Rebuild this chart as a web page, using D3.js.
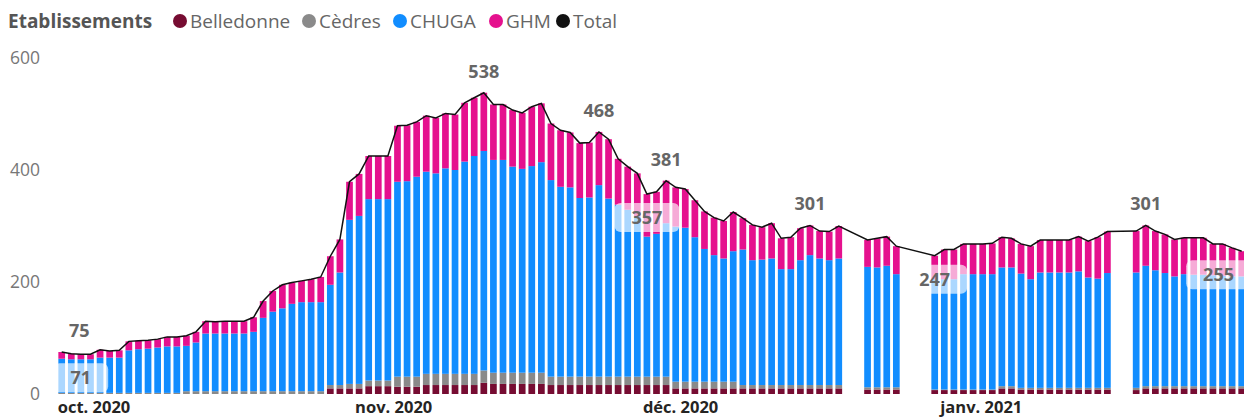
<!DOCTYPE html>
<html>
<head>
<meta charset="utf-8">
<script src="https://cdn.jsdelivr.net/npm/d3@7"></script>
<style>
  body { margin: 0; background: #fff; }
  svg { display: block; font-family: "Open Sans", "Noto Sans", sans-serif; }
</style>
</head>
<body>
<div id="chart"></div>
<script>
const W = 1244, H = 419;

// days with data (gaps are days without values)
const dates = [
  "2020-10-01","2020-10-02","2020-10-03","2020-10-04","2020-10-05","2020-10-06","2020-10-07","2020-10-08","2020-10-09","2020-10-10",
  "2020-10-11","2020-10-12","2020-10-13","2020-10-14","2020-10-15","2020-10-16","2020-10-17","2020-10-18","2020-10-19","2020-10-20",
  "2020-10-21","2020-10-22","2020-10-23","2020-10-24","2020-10-25","2020-10-26","2020-10-27","2020-10-28","2020-10-29","2020-10-30",
  "2020-10-31","2020-11-01","2020-11-02","2020-11-03","2020-11-04","2020-11-05","2020-11-06","2020-11-07","2020-11-08","2020-11-09",
  "2020-11-10","2020-11-11","2020-11-12","2020-11-13","2020-11-14","2020-11-15","2020-11-16","2020-11-17","2020-11-18","2020-11-19",
  "2020-11-20","2020-11-21","2020-11-22","2020-11-23","2020-11-24","2020-11-25","2020-11-26","2020-11-27","2020-11-28","2020-11-29",
  "2020-11-30","2020-12-01","2020-12-02","2020-12-03","2020-12-04","2020-12-05","2020-12-06","2020-12-07","2020-12-08","2020-12-09",
  "2020-12-10","2020-12-11","2020-12-12","2020-12-13","2020-12-14","2020-12-15","2020-12-16","2020-12-17","2020-12-18","2020-12-19",
  "2020-12-20","2020-12-21",
  "2020-12-24","2020-12-25","2020-12-26","2020-12-27",
  "2020-12-31","2021-01-01","2021-01-02","2021-01-03","2021-01-04","2021-01-05","2021-01-06","2021-01-07","2021-01-08","2021-01-09",
  "2021-01-10","2021-01-11","2021-01-12","2021-01-13","2021-01-14","2021-01-15","2021-01-16","2021-01-17","2021-01-18",
  "2021-01-21","2021-01-22","2021-01-23","2021-01-24","2021-01-25","2021-01-26","2021-01-27","2021-01-28","2021-01-29","2021-01-30",
  "2021-01-31","2021-02-01"
];

const belledonne = [
  0,0,0,0,0,0,0,0,0,0, 0,0,0,0,0,0,0,0,0,0, 0,0,0,0,0,0,0,0,10,10,
  10,10,14,14,14,13,13,13,16,16, 16,16,16,16,20,18,18,18,18,18, 18,16,16,16,16,16,16,16,16,16,
  16,16,16,16,10,10,10,10,10,10, 10,10,10,10,10,10,10,10,10,10, 10,10,
  8,8,8,8,
  7,7,7,7,7,7,7,10,10,8, 8,8,8,8,8,8,8,8,8,
  7,10,10,10,10,10,10,10,10,10, 10,10
];
const cedres = [
  2,2,2,2,2,2,2,2,2,2, 2,2,2,5,5,5,5,5,5,5, 5,5,5,5,5,5,5,5,6,6,
  8,8,10,10,10,18,18,18,20,20, 20,20,20,20,22,20,20,20,20,20, 20,15,15,15,15,15,15,15,15,15,
  15,15,15,15,12,12,12,12,12,12, 12,6,6,6,6,6,6,6,6,6, 6,6,
  4,4,4,4,
  1,1,1,1,1,1,1,4,4,3, 3,3,3,3,3,3,3,3,3,
  4,4,4,4,4,4,4,4,4,4, 4,4
];
const chuga = [
  61,60,60,60,63,63,63,76,78,79, 81,83,83,81,87,103,103,103,103,103, 106,131,142,148,156,159,159,159,179,201,
  293,300,324,324,324,348,349,357,361,358, 367,364,379,389,392,380,380,368,364,369, 376,351,339,338,319,320,342,318,307,298,
  286,250,255,274,277,275,258,237,226,220, 233,242,223,224,226,207,207,223,232,226, 223,226,
  215,214,217,202,
  197,197,197,206,206,206,206,212,212,204, 194,206,206,206,206,208,197,195,205,
  206,215,207,202,196,200,199,199,198,197, 196,196
];
const ghm = [
  12,10,9,9,14,12,13,16,15,15, 15,17,17,18,19,22,21,22,22,22, 26,30,37,42,38,38,41,45,51,59,
  68,75,77,77,77,100,100,98,100,99, 98,99,105,104,104,99,99,101,100,106, 105,101,101,98,98,98,95,106,82,77,
  77,76,75,76,70,69,66,67,67,67, 70,56,63,58,63,55,57,57,53,49, 51,58,
  48,52,52,50,
  42,53,53,54,54,54,55,54,52,53, 59,58,58,58,58,62,65,74,74,
  74,72,70,69,66,65,66,66,56,57, 51,45
];
const total = [
  75,72,71,71,79,77,78,94,95,96, 98,102,102,104,111,130,129,130,130,130, 137,166,184,195,199,202,205,209,246,276,
  379,393,425,425,425,479,480,486,497,493, 501,499,520,529,538,517,517,507,502,513, 519,483,471,467,448,449,468,455,420,406,
  394,357,361,381,369,366,346,326,315,309, 325,314,302,298,305,278,280,296,301,291, 290,300,
  275,278,281,264,
  247,258,258,268,268,268,269,280,278,268, 264,275,275,275,275,281,273,280,290,
  291,301,291,285,276,279,279,279,268,268, 261,255
];

// labelled points on the total line: above = local maxima, below = local minima
const labelsAbove = ["2020-10-01","2020-11-14","2020-11-26","2020-12-03","2020-12-18","2021-01-22"];
const labelsBelow = ["2020-10-03","2020-12-01","2020-12-31","2021-02-01"];

const seriesNames = ["Belledonne","Cèdres","CHUGA","GHM"];
const colors = {Belledonne:"#760C32", "Cèdres":"#8A8A8A", CHUGA:"#118DFF", GHM:"#E5118E", Total:"#111"};
const yTicks = [0,200,400,600];
const monthTicks = ["2020-10-01","2020-11-01","2020-12-01","2021-01-01"];

const parse = d3.utcParse("%Y-%m-%d");
const rows = dates.map((d,i)=>({date:parse(d), Belledonne:belledonne[i], "Cèdres":cedres[i], CHUGA:chuga[i], GHM:ghm[i], Total:total[i]}));

const svg = d3.select("#chart").append("svg").attr("width",W).attr("height",H);

const x = d3.scaleUtc().domain([parse("2020-10-01"), parse("2021-02-01")]).range([61.7, 1241.7]);
const y = d3.scaleLinear().domain([0,600]).range([394,58]);
const bw = 6.7;

// y labels
svg.append("g").selectAll("text").data(yTicks).join("text")
  .attr("x",40).attr("y",d=>y(d)).attr("dy","0.35em")
  .attr("text-anchor","end").attr("font-size",17.5).attr("fill","#777")
  .text(d=>d);

// x labels
const fmt = d => d3.utcFormat("%b")(d);
const frMonths = {Oct:"oct.",Nov:"nov.",Dec:"déc.",Jan:"janv."};
svg.append("g").selectAll("text").data(monthTicks.map(parse)).join("text")
  .attr("x",d=>x(d)-4).attr("y",413)
  .attr("font-size",16.5).attr("font-weight",700).attr("fill","#252423")
  .text(d=>frMonths[fmt(d)]+" "+d.getUTCFullYear());

// stacked bars
const stack = d3.stack().keys(seriesNames)(rows);
svg.append("g").selectAll("g").data(stack).join("g")
  .attr("fill",s=>colors[s.key])
  .selectAll("rect").data(s=>s).join("rect")
  .attr("x",d=>x(d.data.date)-bw/2).attr("width",bw)
  .attr("y",d=>y(d[1])).attr("height",d=>y(d[0])-y(d[1]));

// total line
svg.append("path").datum(rows)
  .attr("fill","none").attr("stroke",colors.Total).attr("stroke-width",1.5)
  .attr("d",d3.line().x(d=>x(d.date)).y(d=>y(d.Total)));

// data labels
const byDate = new Map(rows.map(r=>[d3.utcFormat("%Y-%m-%d")(r.date), r]));
const lab = svg.append("g").attr("font-size",18).attr("font-weight",700).attr("fill","#666");
function clampX(px, w){ return Math.max(52 + w/2, Math.min(1251 - w/2, px)); }

labelsAbove.forEach(k=>{
  const r = byDate.get(k);
  const t = lab.append("text").attr("text-anchor","middle").attr("y",y(r.Total)-15).text(r.Total);
  const w = t.node().getComputedTextLength() + 34;
  t.attr("x", clampX(x(r.date), w));
});
labelsBelow.forEach(k=>{
  const r = byDate.get(k);
  const g = lab.append("g");
  const box = g.append("rect").attr("fill","#fff").attr("fill-opacity",0.65).attr("rx",6);
  const t = g.append("text").attr("text-anchor","middle").text(r.Total);
  const w = t.node().getComputedTextLength() + 34;
  const cx = clampX(x(r.date), w), top = y(r.Total)+9;
  box.attr("x",cx-w/2).attr("y",top).attr("width",w).attr("height",29);
  t.attr("x",cx).attr("y",top+21);
});

// legend
const leg = svg.append("g");
leg.append("text").attr("x",8).attr("y",28).attr("font-size",19).attr("font-weight",700).attr("fill","#555").text("Etablissements");
const legItems = [["Belledonne",180],["Cèdres",309],["CHUGA",400],["GHM",496],["Total",563]];
legItems.forEach(([name,cx])=>{
  leg.append("circle").attr("cx",cx).attr("cy",21).attr("r",7).attr("fill",colors[name]);
  leg.append("text").attr("x",cx+10).attr("y",28).attr("font-size",19).attr("fill","#666").text(name);
});
</script>
</body>
</html>
